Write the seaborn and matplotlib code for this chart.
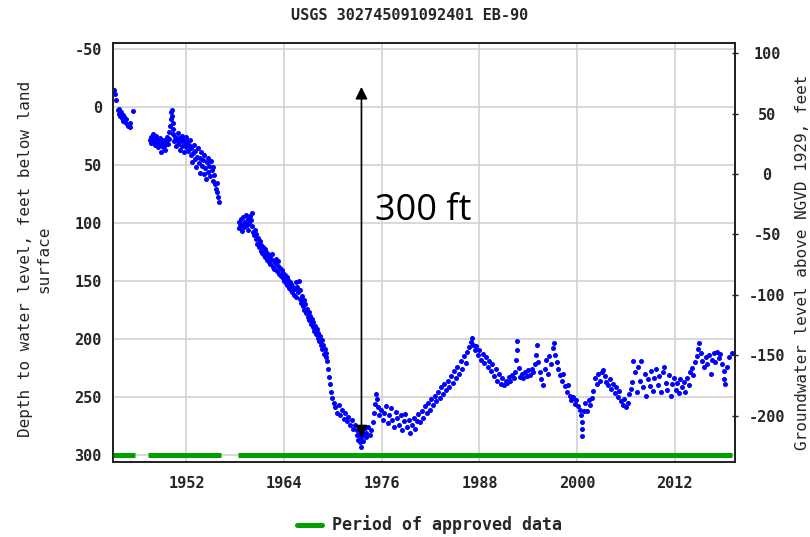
import matplotlib
matplotlib.use("Agg")
import matplotlib.pyplot as plt
from matplotlib.lines import Line2D
import pandas as pd
import seaborn as sns

# ---- labels -------------------------------------------------------------
site_title = "USGS 302745091092401 EB-90"
left_label = "Depth to water level, feet below land\nsurface"
right_label = "Groundwater level above NGVD 1929, feet"
legend_label = "Period of approved data"
drawdown_text = "300 ft"

# ---- water-level measurements: (decimal year, depth below land surface, ft)
levels_1943 = [
    (1943.05, -14), (1943.2, -11), (1943.4, -6), (1943.55, 3), (1943.65, 6),
    (1943.75, 2), (1943.85, 8), (1943.95, 5), (1944.05, 10), (1944.15, 7),
    (1944.25, 12), (1944.35, 9), (1944.5, 13), (1944.6, 11), (1944.75, 15),
    (1944.85, 17), (1945.0, 14), (1945.1, 18), (1945.4, 4),
]

levels_1947 = [
    (1947.5, 29), (1947.6, 26), (1947.7, 31), (1947.8, 27), (1947.9, 24),
    (1948.0, 30), (1948.1, 33), (1948.2, 28), (1948.3, 25), (1948.4, 31),
    (1948.5, 35), (1948.6, 29), (1948.7, 33), (1948.8, 27), (1948.9, 39),
    (1949.0, 31), (1949.1, 35), (1949.2, 29), (1949.3, 33), (1949.4, 37),
    (1949.5, 30), (1949.6, 26), (1949.7, 32), (1949.8, 22), (1949.9, 28),
    (1950.0, 17), (1950.1, 11), (1950.15, 5), (1950.2, 3), (1950.25, 8),
    (1950.3, 14), (1950.35, 19), (1950.4, 24), (1950.5, 30), (1950.6, 26),
    (1950.7, 34), (1950.8, 29), (1950.9, 23), (1951.0, 32), (1951.1, 27),
    (1951.2, 37), (1951.3, 30), (1951.4, 25), (1951.5, 34), (1951.6, 29),
    (1951.7, 39), (1951.8, 31), (1951.9, 26), (1952.0, 35), (1952.1, 30),
    (1952.2, 38), (1952.3, 33), (1952.4, 29), (1952.5, 42), (1952.6, 36),
    (1952.7, 48), (1952.8, 40), (1952.9, 33), (1953.0, 45), (1953.1, 38),
    (1953.2, 52), (1953.3, 43), (1953.4, 36), (1953.5, 49), (1953.6, 57),
    (1953.7, 44), (1953.8, 39), (1953.9, 51), (1954.0, 46), (1954.1, 58),
    (1954.2, 42), (1954.3, 53), (1954.4, 62), (1954.5, 48), (1954.6, 56),
    (1954.7, 44), (1954.8, 51), (1954.9, 60), (1955.0, 47), (1955.1, 55),
    (1955.2, 64), (1955.3, 52), (1955.4, 59), (1955.5, 67), (1955.6, 71),
    (1955.7, 66), (1955.8, 74), (1955.9, 78), (1956.0, 82),
]

levels_1958 = [
    (1958.4, 105), (1958.5, 99), (1958.6, 103), (1958.7, 97), (1958.8, 107),
    (1958.9, 101), (1959.0, 95), (1959.1, 104), (1959.2, 99), (1959.3, 93),
    (1959.4, 102), (1959.5, 97), (1959.6, 106), (1959.7, 100), (1959.8, 94),
    (1959.9, 98), (1960.0, 92), (1960.1, 103), (1960.2, 108), (1960.3, 111),
    (1960.4, 106), (1960.5, 114), (1960.6, 110), (1960.7, 118), (1960.8, 113),
    (1960.9, 121), (1961.0, 116), (1961.1, 124), (1961.2, 119), (1961.3, 126),
    (1961.4, 121), (1961.5, 128), (1961.6, 123), (1961.7, 130), (1961.8, 125),
    (1961.9, 132), (1962.0, 127), (1962.1, 134), (1962.2, 129), (1962.3, 136),
    (1962.4, 131), (1962.5, 127), (1962.6, 138), (1962.7, 133), (1962.8, 140),
    (1962.9, 135), (1963.0, 131), (1963.1, 142), (1963.2, 137), (1963.3, 133),
    (1963.4, 144), (1963.5, 139), (1963.6, 146), (1963.7, 141), (1963.8, 148),
    (1963.9, 143), (1964.0, 150), (1964.1, 145), (1964.2, 152), (1964.3, 147),
    (1964.4, 154), (1964.5, 149), (1964.6, 156), (1964.7, 151), (1964.8, 158),
    (1964.9, 153), (1965.0, 160), (1965.1, 155), (1965.2, 162), (1965.3, 157),
    (1965.4, 151), (1965.5, 164), (1965.6, 155), (1965.7, 160), (1965.8, 150),
    (1965.9, 166), (1966.0, 158), (1966.1, 169), (1966.2, 163), (1966.3, 172),
    (1966.4, 167), (1966.5, 175), (1966.6, 170), (1966.7, 178), (1966.8, 174),
    (1966.9, 181), (1967.0, 177), (1967.1, 184), (1967.2, 180), (1967.3, 187),
    (1967.4, 183), (1967.5, 190), (1967.6, 186), (1967.7, 193), (1967.8, 189),
    (1967.9, 196), (1968.0, 192), (1968.1, 199), (1968.2, 195), (1968.3, 202),
    (1968.4, 198), (1968.5, 205), (1968.6, 201), (1968.7, 209), (1968.8, 205),
    (1968.9, 213), (1969.0, 209), (1969.1, 216), (1969.2, 212), (1969.3, 219),
    (1969.4, 226), (1969.5, 233), (1969.6, 239), (1969.8, 246), (1969.9, 251),
    (1970.1, 255), (1970.3, 259), (1970.5, 264), (1970.7, 257), (1970.9, 266),
    (1971.1, 261), (1971.3, 269), (1971.5, 264), (1971.7, 271), (1971.9, 267),
    (1972.1, 274), (1972.3, 270), (1972.5, 278), (1972.7, 274), (1972.9, 283),
    (1973.0, 279), (1973.1, 287), (1973.2, 282), (1973.3, 289), (1973.4, 293),
    (1973.5, 285), (1973.6, 280), (1973.7, 288), (1973.8, 283), (1973.9, 277),
    (1974.0, 285), (1974.1, 281), (1974.3, 276), (1974.5, 283), (1974.7, 279),
    (1974.9, 272), (1975.1, 264), (1975.2, 256), (1975.3, 248), (1975.4, 252),
    (1975.5, 259), (1975.7, 266), (1975.9, 261), (1976.1, 270), (1976.3, 264),
    (1976.5, 258), (1976.7, 273), (1976.9, 266), (1977.1, 260), (1977.3, 270),
    (1977.5, 276), (1977.7, 263), (1977.9, 268), (1978.1, 274), (1978.3, 266),
    (1978.5, 279), (1978.7, 271), (1978.9, 265), (1979.1, 276), (1979.3, 270),
    (1979.5, 281), (1979.7, 274), (1979.9, 268), (1980.1, 278), (1980.3, 271),
    (1980.5, 265), (1980.7, 272), (1980.9, 262), (1981.1, 268), (1981.3, 258),
    (1981.5, 264), (1981.7, 255), (1981.9, 261), (1982.1, 252), (1982.3, 257),
    (1982.5, 249), (1982.7, 254), (1982.9, 246), (1983.1, 251), (1983.3, 242),
    (1983.5, 248), (1983.7, 239), (1983.9, 244), (1984.1, 236), (1984.3, 242),
    (1984.5, 232), (1984.7, 238), (1984.9, 228), (1985.1, 234), (1985.3, 224),
    (1985.5, 230), (1985.7, 219), (1985.9, 226), (1986.1, 215), (1986.3, 221),
    (1986.5, 211), (1986.7, 207), (1986.9, 203), (1987.1, 199), (1987.2, 205),
    (1987.4, 210), (1987.6, 206), (1987.8, 214), (1988.0, 210), (1988.2, 218),
    (1988.4, 213), (1988.6, 221), (1988.8, 216), (1989.0, 224), (1989.2, 219),
    (1989.4, 228), (1989.6, 222), (1989.8, 232), (1990.0, 226), (1990.2, 236),
    (1990.4, 230), (1990.6, 239), (1990.8, 234), (1991.0, 240), (1991.2, 236),
    (1991.4, 238), (1991.6, 233), (1991.8, 236), (1992.0, 231), (1992.2, 234),
    (1992.4, 229), (1992.55, 218), (1992.6, 210), (1992.65, 202), (1992.8, 225),
    (1993.0, 233), (1993.2, 230), (1993.4, 234), (1993.6, 229), (1993.8, 232),
    (1994.0, 227), (1994.2, 231), (1994.4, 226), (1994.6, 229), (1994.8, 222),
    (1995.0, 214), (1995.1, 205), (1995.2, 220), (1995.4, 229), (1995.6, 235),
    (1995.8, 240), (1996.0, 226), (1996.2, 218), (1996.4, 230), (1996.6, 215),
    (1996.8, 222), (1997.0, 208), (1997.1, 204), (1997.3, 214), (1997.5, 220),
    (1997.7, 226), (1997.9, 231), (1998.1, 236), (1998.3, 230), (1998.5, 241),
    (1998.7, 246), (1998.9, 240), (1999.1, 249), (1999.3, 253), (1999.5, 250),
    (1999.7, 256), (1999.9, 253), (2000.1, 258), (2000.3, 261), (2000.5, 266),
    (2000.55, 272), (2000.6, 278), (2000.65, 284), (2000.8, 262), (2001.0, 255),
    (2001.2, 262), (2001.4, 253), (2001.6, 257), (2001.8, 251), (2002.0, 245),
    (2002.2, 234), (2002.4, 239), (2002.6, 230), (2002.8, 236), (2003.0, 229),
    (2003.2, 227), (2003.4, 232), (2003.6, 237), (2003.8, 240), (2004.0, 235),
    (2004.2, 243), (2004.4, 239), (2004.6, 247), (2004.8, 242), (2005.0, 250),
    (2005.2, 245), (2005.4, 254), (2005.6, 257), (2005.8, 252), (2006.0, 259),
    (2006.2, 255), (2006.4, 248), (2006.6, 243), (2006.8, 237), (2006.9, 219),
    (2007.1, 229), (2007.3, 246), (2007.5, 224), (2007.7, 236), (2007.9, 219),
    (2008.1, 242), (2008.3, 230), (2008.5, 249), (2008.7, 235), (2008.9, 241),
    (2009.1, 228), (2009.3, 245), (2009.5, 234), (2009.7, 226), (2009.9, 240),
    (2010.1, 232), (2010.3, 246), (2010.5, 229), (2010.7, 224), (2010.9, 238),
    (2011.1, 244), (2011.3, 231), (2011.5, 249), (2011.7, 239), (2011.9, 234),
    (2012.1, 244), (2012.3, 238), (2012.5, 247), (2012.7, 235), (2012.9, 242),
    (2013.1, 237), (2013.3, 246), (2013.5, 234), (2013.7, 240), (2013.9, 229),
    (2014.1, 225), (2014.3, 231), (2014.5, 220), (2014.7, 215), (2014.9, 209),
    (2015.0, 204), (2015.2, 212), (2015.4, 219), (2015.6, 224), (2015.8, 216),
    (2016.0, 222), (2016.2, 214), (2016.4, 230), (2016.6, 218), (2016.8, 212),
    (2017.0, 220), (2017.2, 211), (2017.4, 217), (2017.6, 213), (2017.8, 222),
    (2018.0, 228), (2018.1, 235), (2018.2, 239), (2018.4, 224), (2018.7, 216),
    (2019.0, 212),
]

# ---- approved-data periods ---------------------------------------------
approved_start = [1942.9, 1947.3, 1958.3]
approved_end = [1945.7, 1956.3, 2019.0]
approved_depth = 300

# ---- axes ticks ----------------------------------------------------------
year_ticks = [1952, 1964, 1976, 1988, 2000, 2012]
depth_ticks = [-50, 0, 50, 100, 150, 200, 250, 300]
elev_ticks = [100, 50, 0, -50, -100, -150, -200]

# ---- drawdown arrow ------------------------------------------------------
drawdown_year = 1973.5
drawdown_top = -17
drawdown_bottom = 285

levels = pd.DataFrame(levels_1943 + levels_1947 + levels_1958,
                      columns=["year", "depth"])

sns.set_style("white")
plt.rcParams["font.family"] = ["DejaVu Sans Mono"]
plt.rcParams["font.weight"] = "bold"
plt.rcParams["axes.unicode_minus"] = False

W, H = 810, 537
fig = plt.figure(figsize=(W / 100, H / 100), dpi=100)
L, R, T, B = 113, 735, 43, 462
ax = fig.add_axes([L / W, 1 - B / H, (R - L) / W, (B - T) / H])

ax.set_axisbelow(True)
ax.grid(True, color="#d2d2d2", lw=1.2)

sns.scatterplot(data=levels, x="year", y="depth", ax=ax, color="#0000ff",
                marker="o", s=13, linewidth=0, zorder=3, legend=False)

approved_color = "#00a000"
ax.hlines([approved_depth] * len(approved_start), approved_start, approved_end,
          color=approved_color, lw=3.6, zorder=4)

ax.annotate("", xy=(drawdown_year, drawdown_top),
            xytext=(drawdown_year, drawdown_bottom),
            arrowprops=dict(arrowstyle="<|-|>,head_length=0.6,head_width=0.3",
                            color="black", lw=1.2, shrinkA=0, shrinkB=0,
                            mutation_scale=12), zorder=5)
ax.text(1975.2, 98, drawdown_text, family="Open Sans", fontweight="normal",
        fontsize=26, ha="left", va="baseline", color="black", zorder=6)

ax.set_xlim(1942.97, 2019.4)
ax.set_ylim(306.2, -54.8)
ax.set_xticks(year_ticks)
ax.set_yticks(depth_ticks)
ax.set_xlabel("")
ax.set_ylabel(left_label, fontsize=11.5, linespacing=1.25)
ax.yaxis.set_label_coords((51 - L) / (R - L), (B - 259) / (B - T))
ax.tick_params(axis="x", length=0, labelsize=11, pad=10)
ax.tick_params(axis="y", length=0, labelsize=11, pad=8)

ax2 = ax.twinx()
ax2.set_ylim(-238.3, 108.5)
ax2.set_yticks(elev_ticks)
ax2.set_yticklabels([str(v) for v in elev_ticks], ha="center")
ax2.tick_params(axis="y", direction="inout", length=4, width=1,
                labelsize=11, pad=21, color="#222222")
ax2.set_ylabel(right_label, fontsize=11.5)
ax2.yaxis.set_label_coords((795 - L) / (R - L), (B - 262) / (B - T))
ax2.grid(False)

for a in (ax, ax2):
    for sp in a.spines.values():
        sp.set_visible(True)
        sp.set_color("#222222")
        sp.set_linewidth(1.3)

fig.text(409.5 / W, 1 - 15 / H, site_title, ha="center", va="center",
         fontsize=11)

handle = Line2D([0], [0], color=approved_color, lw=3.6)
fig.legend([handle], [legend_label], loc="center",
           bbox_to_anchor=(429.5 / W, 1 - 525 / H), frameon=False,
           fontsize=12, handlelength=1.45, handletextpad=0.6)

fig.savefig("out.png", dpi=100)
